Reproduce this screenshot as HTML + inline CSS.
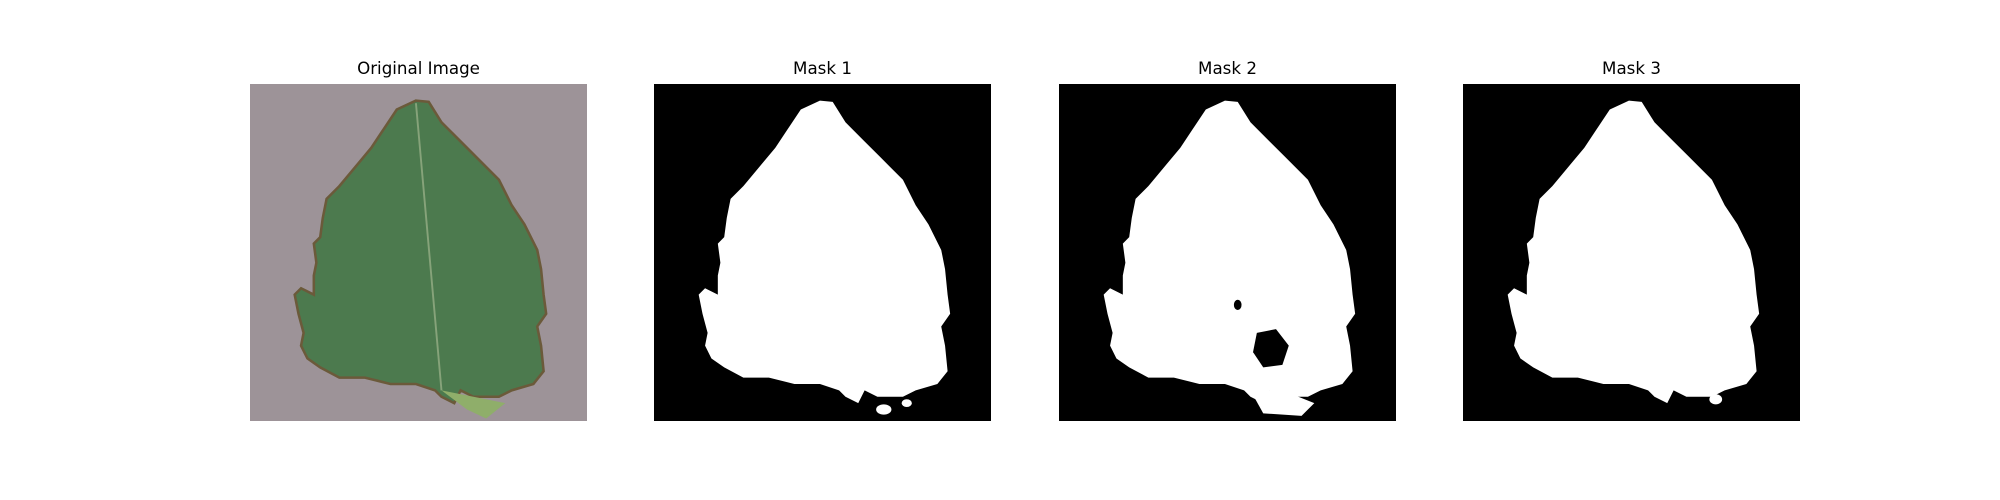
<!DOCTYPE html>
<html>
<head>
<meta charset="utf-8">
<style>
  html,body{margin:0;padding:0;background:#fff;}
  #fig{position:relative;width:2000px;height:500px;background:#fff;overflow:hidden;font-family:"DejaVu Sans","Liberation Sans",sans-serif;}
  .title{position:absolute;top:58px;width:337px;text-align:center;font-size:16.7px;color:#000;}
  .panel{position:absolute;top:84px;width:337px;height:337px;}
</style>
</head>
<body>
<div id="fig">
  <svg width="0" height="0" style="position:absolute">
    <defs>
      <path id="leaf" d="M130,13 L140,14 L150,30 L165,45 L178,58 L195,75 L205,95 L215,110 L225,130 L228,145 L230,165 L232,180 L225,190 L228,205 L230,225 L222,235 L205,240 L195,245 L175,245 L165,240 L160,250 L150,245 L145,240 L130,235 L110,235 L90,230 L70,230 L55,222 L45,215 L40,205 L42,195 L38,180 L35,165 L40,160 L50,165 L50,150 L52,140 L50,125 L55,120 L57,105 L60,90 L70,80 L85,62 L95,50 L105,35 L115,20 Z"/>
    </defs>
  </svg>

  <div class="title" style="left:250px">Original Image</div>
  <svg class="panel" style="left:250px" viewBox="0 0 264 264" preserveAspectRatio="none">
    <rect width="264" height="264" fill="#9d9398"/>
    <use href="#leaf" fill="#4c7a4e" stroke="#6b5a3a" stroke-width="2"/>
    <path d="M130,15 L150,240" stroke="#86a37a" stroke-width="1.5" fill="none"/>
    <path d="M150,240 L170,255 L185,262 L200,250 L175,245 Z" fill="#8fae6a"/>
  </svg>

  <div class="title" style="left:654px">Mask 1</div>
  <svg class="panel" style="left:654px" viewBox="0 0 264 264" preserveAspectRatio="none">
    <rect width="264" height="264" fill="#000"/>
    <use href="#leaf" fill="#fff"/>
    <ellipse cx="180" cy="255" rx="6" ry="4" fill="#fff"/>
    <ellipse cx="198" cy="250" rx="4" ry="3" fill="#fff"/>
    <ellipse cx="195" cy="215" rx="4" ry="2" fill="#fff"/>
  </svg>

  <div class="title" style="left:1059px">Mask 2</div>
  <svg class="panel" style="left:1059px" viewBox="0 0 264 264" preserveAspectRatio="none">
    <rect width="264" height="264" fill="#000"/>
    <use href="#leaf" fill="#fff"/>
    <path d="M150,240 L160,258 L190,260 L200,250 L175,240 Z" fill="#fff"/>
    <path d="M155,195 L170,192 L180,205 L175,220 L160,222 L152,210 Z" fill="#000"/>
    <ellipse cx="140" cy="173" rx="3" ry="4" fill="#000"/>
  </svg>

  <div class="title" style="left:1463px">Mask 3</div>
  <svg class="panel" style="left:1463px" viewBox="0 0 264 264" preserveAspectRatio="none">
    <rect width="264" height="264" fill="#000"/>
    <use href="#leaf" fill="#fff"/>
    <ellipse cx="198" cy="247" rx="5" ry="4" fill="#fff"/>
  </svg>
</div>
</body>
</html>
